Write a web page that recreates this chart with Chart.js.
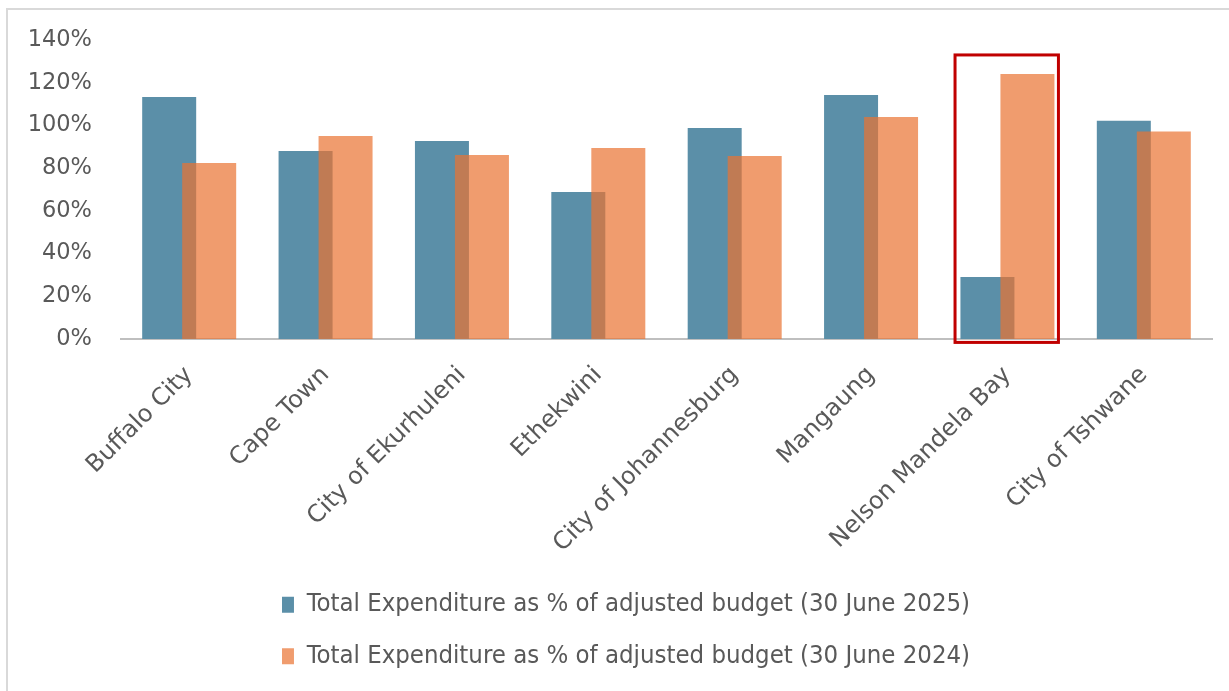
<!DOCTYPE html>
<html>
<head>
<meta charset="utf-8">
<script src="https://cdn.jsdelivr.net/npm/chart.js@4.4.1/dist/chart.umd.min.js"></script>
<style>
  html, body { margin: 0; padding: 0; background: #fff; }
  #wrap { position: relative; width: 1229px; height: 691px; overflow: hidden; }
  #frame { position: absolute; left: 6px; top: 8px; width: 1300px; height: 800px;
           border-left: 2px solid #d9d9d9; border-top: 2px solid #d9d9d9; }
  #graphe { position: absolute; left: 0; top: 0; }
</style>
</head>
<body>
<div id="wrap">
  <div id="frame"></div>
  <canvas id="graphe" width="1229" height="691"></canvas>
</div>
<script>
// metros and spending ratios (percent of adjusted budget)
var metros = ["Buffalo City", "Cape Town", "City of Ekurhuleni", "Ethekwini",
              "City of Johannesburg", "Mangaung", "Nelson Mandela Bay", "City of Tshwane"];
var depenses2025 = [113.3, 88.0, 92.7, 68.8, 98.8, 114.2, 29.0, 102.2];
var depenses2024 = [82.4, 95.0, 86.1, 89.4, 85.7, 103.9, 124.1, 97.1];
var graduations = [0, 20, 40, 60, 80, 100, 120, 140];
var libelle2025 = "Total Expenditure as % of adjusted budget (30 June 2025)";
var libelle2024 = "Total Expenditure as % of adjusted budget (30 June 2024)";
var metroEncadre = 6;

var gris = "#595959";
var basGraphe = 339; // pixel row of the 0% line

// draw 2025 first so the translucent 2024 bars sit on top, then the red box
var ordreBarres = {
    id: "ordreBarres",
    afterLayout: function (chart) {
        // nudge the legend a little to the right
        chart.legend.left += 20;
        chart.legend.right += 20;
    },
    beforeDatasetsDraw: function (chart) {
        var ctx = chart.ctx;
        for (var i = 0; i < chart.data.datasets.length; i++) {
            chart.getDatasetMeta(i).controller.draw();
        }
        var x = chart.scales.x.getPixelForValue(metroEncadre);
        var haut = chart.scales.y.getPixelForValue(133);
        var bas = chart.scales.y.getPixelForValue(-1.6);
        ctx.save();
        ctx.strokeStyle = "#C00000";
        ctx.lineWidth = 3;
        ctx.strokeRect(x - 52.4, haut, 103.4, bas - haut);
        ctx.restore();
        return false;
    }
};

var ctx = document.getElementById("graphe");
var myChart = new Chart(ctx, {
    type: 'bar',
    data: {
        labels: metros,
        datasets: [{
            label: libelle2025,
            data: depenses2025,
            backgroundColor: "#5B8FA8",
            borderWidth: 0,
            categoryPercentage: 0.5866,
            barPercentage: 1.35
        }, {
            label: libelle2024,
            data: depenses2024,
            backgroundColor: "rgba(234, 115, 50, 0.707)",
            borderWidth: 0,
            categoryPercentage: 0.5866,
            barPercentage: 1.35
        }]
    },
    options: {
        responsive: false,
        animation: false,
        layout: { padding: { left: 0, right: 17, top: 40, bottom: 12 } },
        plugins: {
            tooltip: { enabled: false },
            legend: {
                position: 'bottom',
                labels: {
                    color: gris,
                    font: { family: "'Liberation Sans Narrow', 'DejaVu Sans Condensed', sans-serif", size: 25.5 },
                    boxWidth: 12,
                    boxHeight: 16,
                    padding: 26
                }
            }
        },
        scales: {
            x: {
                grid: { display: false },
                border: { display: true, color: "#bfbfbf", width: 2 },
                afterFit: function (scale) {
                    var leg = scale.chart.legend ? scale.chart.legend.height : 0;
                    scale.height = 691 - 12 - leg - basGraphe;
                },
                ticks: {
                    color: gris,
                    font: { family: "'DejaVu Sans', sans-serif", size: 24 },
                    maxRotation: 45,
                    minRotation: 45,
                    autoSkip: false,
                    padding: 14
                }
            },
            y: {
                min: 0,
                max: 140,
                afterBuildTicks: function (scale) {
                    scale.ticks = graduations.map(function (v) { return { value: v }; });
                },
                afterFit: function (scale) { scale.width = 121; },
                grid: { display: false },
                border: { display: false },
                ticks: {
                    color: gris,
                    font: { family: "'DejaVu Sans', sans-serif", size: 22.5 },
                    padding: 21,
                    callback: function (v) { return v + "%"; }
                }
            }
        }
    },
    plugins: [ordreBarres]
});
</script>
</body>
</html>
